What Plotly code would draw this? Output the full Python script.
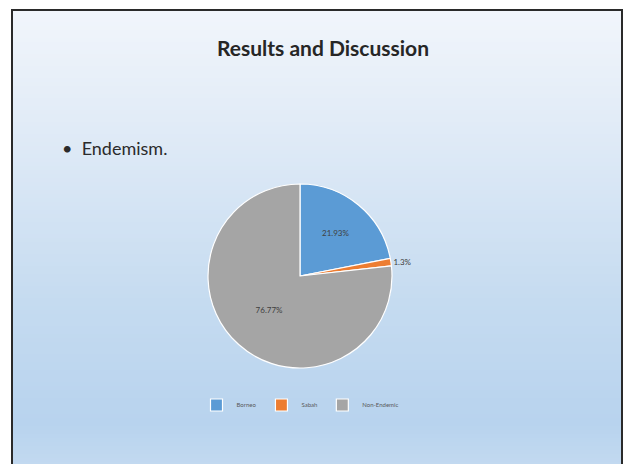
import plotly.graph_objects as go

# ---- data ----
categories = ["Borneo", "Sabah", "Non-Endemic"]
values = [21.93, 1.3, 76.77]
label_text = ["21.93%", "1.3%", "76.77%"]
colors = ["#5b9bd5", "#ed7d31", "#a5a5a5"]

W, H = 627, 464

def px_x(x):
    return x / W

def px_y(y):
    return (H - y) / H

fig = go.Figure()

fig.add_trace(go.Pie(
    labels=categories,
    values=values,
    text=label_text,
    textinfo="text",
    textposition=["inside", "outside", "inside"],
    sort=False,
    direction="clockwise",
    rotation=0,
    marker=dict(colors=colors, line=dict(color="#ffffff", width=1.2)),
    textfont=dict(family="Lato", size=8, color="#404040"),
    insidetextorientation="horizontal",
    domain=dict(x=[px_x(208), px_x(392)], y=[px_y(368), px_y(184)]),
    showlegend=True,
    hoverinfo="label+percent",
))

# gradient slide background built from thin rectangles
stops = [(10, (241, 245, 251)), (150, (221, 233, 246)), (300, (197, 219, 240)),
         (420, (184, 211, 238)), (470, (196, 218, 240))]

def col_at(y):
    for (y0, c0), (y1, c1) in zip(stops[:-1], stops[1:]):
        if y0 <= y <= y1:
            t = (y - y0) / (y1 - y0)
            return tuple(round(a + (b - a) * t) for a, b in zip(c0, c1))
    return stops[-1][1]

shapes = []
step = 4
y = 10
while y < 470:
    c = col_at(y)
    shapes.append(dict(type="rect", xref="paper", yref="paper",
                       x0=px_x(12), x1=px_x(622), y0=px_y(min(y + step, 470)), y1=px_y(y),
                       fillcolor="rgb(%d,%d,%d)" % c, line=dict(width=0), layer="below"))
    y += step
shapes.append(dict(type="rect", xref="paper", yref="paper",
                   x0=px_x(12), x1=px_x(622), y0=px_y(472), y1=px_y(10),
                   fillcolor="rgba(0,0,0,0)", line=dict(color="#2a2a2a", width=2), layer="above"))

fig.update_layout(
    width=W, height=H,
    margin=dict(l=0, r=0, t=0, b=0),
    paper_bgcolor="#ffffff",
    plot_bgcolor="#ffffff",
    shapes=shapes,
    legend=dict(orientation="h", x=px_x(300), xanchor="center", y=px_y(405), yanchor="middle",
                font=dict(family="Lato", size=6, color="#595959"),
                bgcolor="rgba(0,0,0,0)", itemwidth=30, tracegroupgap=0),
    annotations=[
        dict(text="<b>Results and Discussion</b>", x=px_x(323), y=px_y(47), xref="paper", yref="paper",
             showarrow=False, xanchor="center", yanchor="middle",
             font=dict(family="Lato", size=21, color="#262626")),
        dict(text="•  Endemism.", x=px_x(60), y=px_y(148), xref="paper", yref="paper",
             showarrow=False, xanchor="left", yanchor="middle",
             font=dict(family="Lato", size=18, color="#2b2b2b")),
    ],
)

fig.write_html("out.html")
